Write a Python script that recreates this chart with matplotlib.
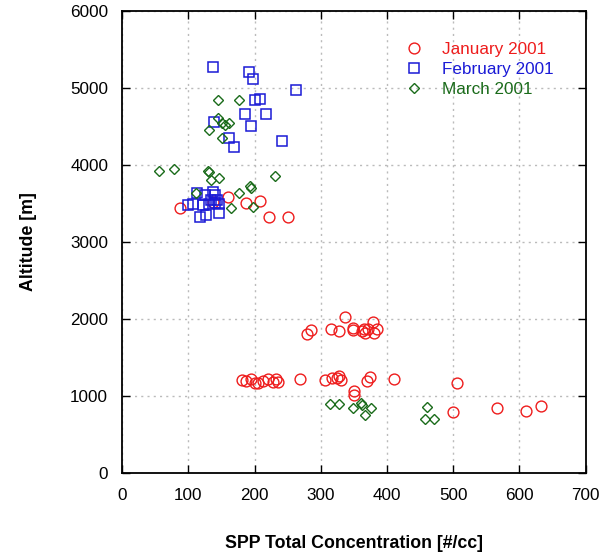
import matplotlib
matplotlib.use("Agg")
import matplotlib.pyplot as plt

plt.rcParams['font.family'] = ['Liberation Sans', 'DejaVu Sans']

jan_x = [87, 137, 160, 187, 208, 222, 251,
         280, 285, 315, 327, 337, 349, 349, 362, 366, 367, 372, 379, 381, 385,
         181, 187, 195, 200, 206, 213, 221, 228, 232, 235, 268, 306, 317, 325, 327, 331,
         370, 374, 411, 506, 350, 351, 500, 567, 610, 633]
jan_y = [3437, 3520, 3584, 3510, 3532, 3329, 3325,
         1801, 1853, 1866, 1844, 2030, 1887, 1853, 1844, 1866, 1822, 1874, 1965, 1822, 1874,
         1208, 1195, 1225, 1173, 1173, 1195, 1216, 1182, 1216, 1182, 1225, 1204, 1229, 1229, 1256, 1204,
         1195, 1247, 1225, 1165, 1065, 1013, 788, 848, 805, 870]

feb_x = [137, 192, 198, 262, 208, 201, 185, 218, 195, 139, 162, 169, 242,
         113, 125, 138, 140, 100, 107, 122, 132, 140, 147, 117, 126, 147, 143, 134]
feb_y = [5273, 5212, 5121, 4978, 4861, 4840, 4666, 4658, 4510, 4562, 4355, 4238, 4312,
         3632, 3606, 3649, 3606, 3476, 3489, 3476, 3489, 3502, 3489, 3325, 3346, 3381, 3541, 3545]

mar_x = [145, 176, 145, 151, 161, 156, 131, 151,
         56, 79, 129, 131, 135, 147, 231, 176, 193, 195, 112, 165, 197,
         314, 328, 349, 361, 362, 367, 376, 460, 457, 471]
mar_y = [4844, 4844, 4615, 4550, 4541, 4519, 4455, 4355,
         3926, 3944, 3926, 3909, 3805, 3831, 3853, 3640, 3723, 3705, 3632, 3446, 3455,
         892, 892, 848, 905, 883, 753, 840, 861, 705, 705]

labels = ['January 2001', 'February 2001', 'March 2001']
colors = ['#ee1c1c', '#1a1ad6', '#1a6b1a']

fig = plt.figure(figsize=(6.09, 5.54), dpi=100)
ax = fig.add_axes([0.2005, 0.1462, 0.761, 0.834])

ax.plot(jan_x, jan_y, 'o', ms=7.8, mfc='none', mec=colors[0], color=colors[0], mew=1.0, label=labels[0])
ax.plot(feb_x, feb_y, 's', ms=7.6, mfc='none', mec=colors[1], color=colors[1], mew=1.1, label=labels[1])
ax.plot(mar_x, mar_y, 'D', ms=5.0, mfc='none', mec=colors[2], color=colors[2], mew=1.0, label=labels[2])

ax.set_xlim(0, 700)
ax.set_ylim(0, 6000)
ax.set_xticks(range(0, 701, 100))
ax.set_yticks(range(0, 6001, 1000))
ax.grid(True, color='#bbbbbb', linestyle=(0, (1.5, 3)), linewidth=1.0)
ax.set_axisbelow(True)
ax.tick_params(direction='in', length=6, width=1, top=True, right=True,
               labelsize=12.3, colors='black')
ax.tick_params(axis='x', pad=11)
ax.tick_params(axis='y', pad=10)
for s in ax.spines.values():
    s.set_linewidth(1.3)

ax.set_xlabel('SPP Total Concentration [#/cc]', fontsize=12.8, fontweight='bold')
ax.set_ylabel('Altitude [m]', fontsize=12.8, fontweight='bold')
ax.xaxis.set_label_coords(0.5, -0.134)
ax.yaxis.set_label_coords(-0.183, 0.5)

leg = ax.legend(loc='upper left', bbox_to_anchor=(0.57, 0.967), frameon=False,
                fontsize=12.3, handletextpad=0.85, labelspacing=0.3,
                handlelength=1.5)
for t, c in zip(leg.get_texts(), colors):
    t.set_color(c)

fig.savefig('out.png', dpi=100)
